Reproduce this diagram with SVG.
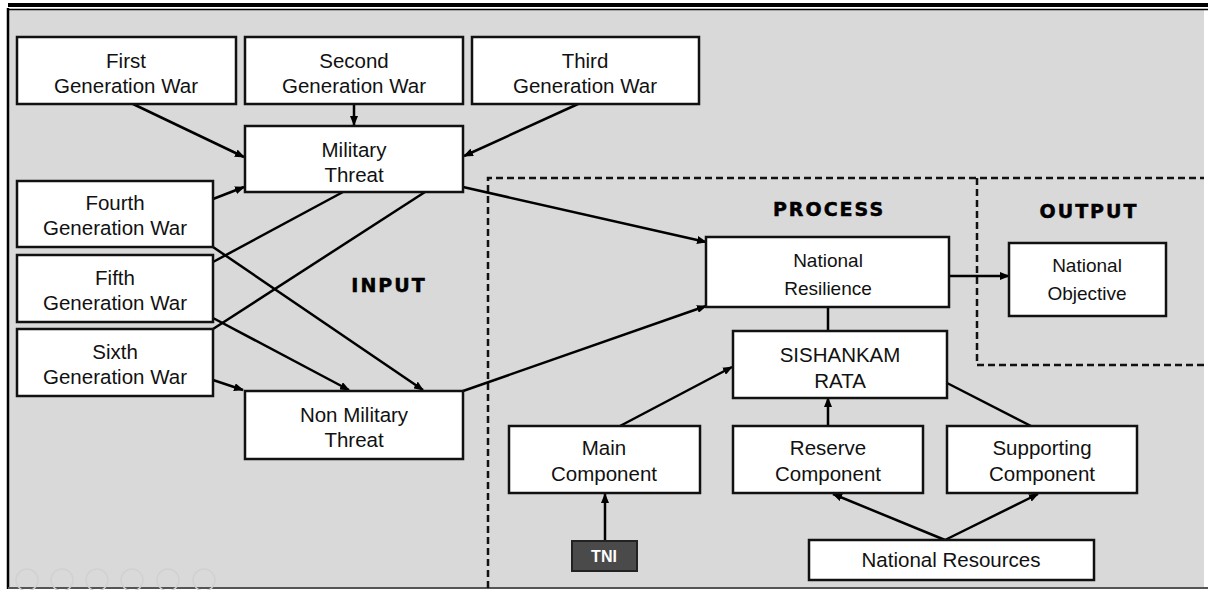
<svg xmlns="http://www.w3.org/2000/svg" width="1208" height="590" viewBox="0 0 1208 590">
<defs>
<marker id="arr" markerWidth="10" markerHeight="8" refX="9" refY="4" orient="auto" markerUnits="userSpaceOnUse"><path d="M0,0 L10,4 L0,8 z" fill="#000"/></marker>
<style>
.box{fill:#fff;stroke:#111;stroke-width:2.5}
.t{font-family:"Liberation Sans",Arial,sans-serif;font-size:20.5px;fill:#111;text-anchor:middle}
.c{font-family:"Liberation Sans",Arial,sans-serif;font-size:19px;fill:#111;text-anchor:middle}
.lbl{font-family:"DejaVu Sans",sans-serif;font-weight:bold;font-size:19px;letter-spacing:2px;text-anchor:middle;fill:#000;stroke:#000;stroke-width:0.5}
.ln{stroke:#000;stroke-width:2.5;fill:none}
.ar{marker-end:url(#arr)}
.dash{stroke:#111;stroke-width:2.5;stroke-dasharray:7 4;fill:none}
.ctl{fill:none;stroke:#d1d1d1;stroke-width:1.5}
</style>
</defs>
<rect x="0" y="0" width="1208" height="590" fill="#fff"/>
<rect x="9" y="10" width="1195" height="577" fill="#d9d9d9"/>
<rect x="8" y="3" width="1200" height="4" fill="#000"/>
<line x1="8" y1="9.5" x2="1208" y2="9.5" stroke="#000" stroke-width="1.5"/>
<line x1="8" y1="8" x2="8" y2="589" stroke="#000" stroke-width="2.5"/>
<line x1="8" y1="588" x2="1208" y2="588" stroke="#555" stroke-width="2"/>
<g id="controls">
<circle class="ctl" cx="27" cy="580" r="11"/><circle class="ctl" cx="62" cy="580" r="11"/><circle class="ctl" cx="97" cy="580" r="11"/><circle class="ctl" cx="132" cy="580" r="11"/><circle class="ctl" cx="168" cy="580" r="11"/><circle class="ctl" cx="204" cy="580" r="11"/>
</g>
<g id="regions">
<path class="dash" d="M488,588 V178 H1204"/>
<path class="dash" d="M977,178 V365 H1204"/>
<text class="lbl" x="389" y="292">INPUT</text>
<text class="lbl" x="829" y="216">PROCESS</text>
<text class="lbl" x="1089" y="218">OUTPUT</text>
</g>
<g id="connectors">
<path class="ln ar" d="M133,104 L244,157"/>
<path class="ln ar" d="M354,104 L354,125"/>
<path class="ln ar" d="M578,104 L464,156"/>
<path class="ln ar" d="M213,199 L244,187"/>
<path class="ln" d="M343,192 L213,262"/>
<path class="ln" d="M425,192 L213,329"/>
<path class="ln ar" d="M213,247 L423,390"/>
<path class="ln ar" d="M213,318 L349,390"/>
<path class="ln ar" d="M213,380 L243,390"/>
<path class="ln ar" d="M463,187 L706,242"/>
<path class="ln ar" d="M463,391 L706,306"/>
<path class="ln ar" d="M949,276 L1009,276"/>
<path class="ln" d="M828,307 L828,331"/>
<path class="ln ar" d="M620,426 L732,367"/>
<path class="ln ar" d="M828,426 L828,398"/>
<path class="ln" d="M947,383 L1031,426"/>
<path class="ln ar" d="M605,541 L605,494"/>
<path class="ln ar" d="M945,540 L833,494"/>
<path class="ln ar" d="M945,540 L1038,494"/>
</g>
<g id="first"><rect class="box" x="17" y="37" width="219" height="67"/><text class="t" x="126" y="68">First</text><text class="t" x="126" y="93">Generation War</text></g>
<g id="second"><rect class="box" x="245" y="37" width="218" height="67"/><text class="t" x="354" y="68">Second</text><text class="t" x="354" y="93">Generation War</text></g>
<g id="third"><rect class="box" x="472" y="37" width="227" height="67"/><text class="t" x="585" y="68">Third</text><text class="t" x="585" y="93">Generation War</text></g>
<g id="military"><rect class="box" x="245" y="126" width="218" height="66"/><text class="t" x="354" y="157">Military</text><text class="t" x="354" y="182">Threat</text></g>
<g id="fourth"><rect class="box" x="17" y="181" width="196" height="66"/><text class="t" x="115" y="210">Fourth</text><text class="t" x="115" y="235">Generation War</text></g>
<g id="fifth"><rect class="box" x="17" y="255" width="196" height="67"/><text class="t" x="115" y="285">Fifth</text><text class="t" x="115" y="310">Generation War</text></g>
<g id="sixth"><rect class="box" x="17" y="329" width="196" height="67"/><text class="t" x="115" y="359">Sixth</text><text class="t" x="115" y="384">Generation War</text></g>
<g id="nonmilitary"><rect class="box" x="245" y="391" width="218" height="68"/><text class="t" x="354" y="422">Non Military</text><text class="t" x="354" y="447">Threat</text></g>
<g id="resilience"><rect class="box" x="706" y="237" width="243" height="70"/><text class="c" x="828" y="267">National</text><text class="c" x="828" y="295">Resilience</text></g>
<g id="objective"><rect class="box" x="1009" y="243" width="157" height="73"/><text class="c" x="1087" y="272">National</text><text class="c" x="1087" y="300">Objective</text></g>
<g id="sishankamrata"><rect class="box" x="733" y="331" width="214" height="67"/><text class="t" x="840" y="362">SISHANKAM</text><text class="t" x="840" y="388">RATA</text></g>
<g id="main"><rect class="box" x="509" y="426" width="191" height="67"/><text class="t" x="604" y="455">Main</text><text class="t" x="604" y="481">Component</text></g>
<g id="reserve"><rect class="box" x="733" y="426" width="190" height="67"/><text class="t" x="828" y="455">Reserve</text><text class="t" x="828" y="481">Component</text></g>
<g id="supporting"><rect class="box" x="947" y="426" width="190" height="67"/><text class="t" x="1042" y="455">Supporting</text><text class="t" x="1042" y="481">Component</text></g>
<g id="tni"><rect x="572" y="541" width="65" height="30" fill="#4a4a4a" stroke="#222" stroke-width="2"/><text x="604" y="562" font-family="'Liberation Sans',Arial,sans-serif" font-size="16" font-weight="bold" fill="#fff" text-anchor="middle">TNI</text></g>
<g id="resources"><rect class="box" x="809" y="540" width="285" height="40"/><text class="t" x="951" y="567">National Resources</text></g>
</svg>
